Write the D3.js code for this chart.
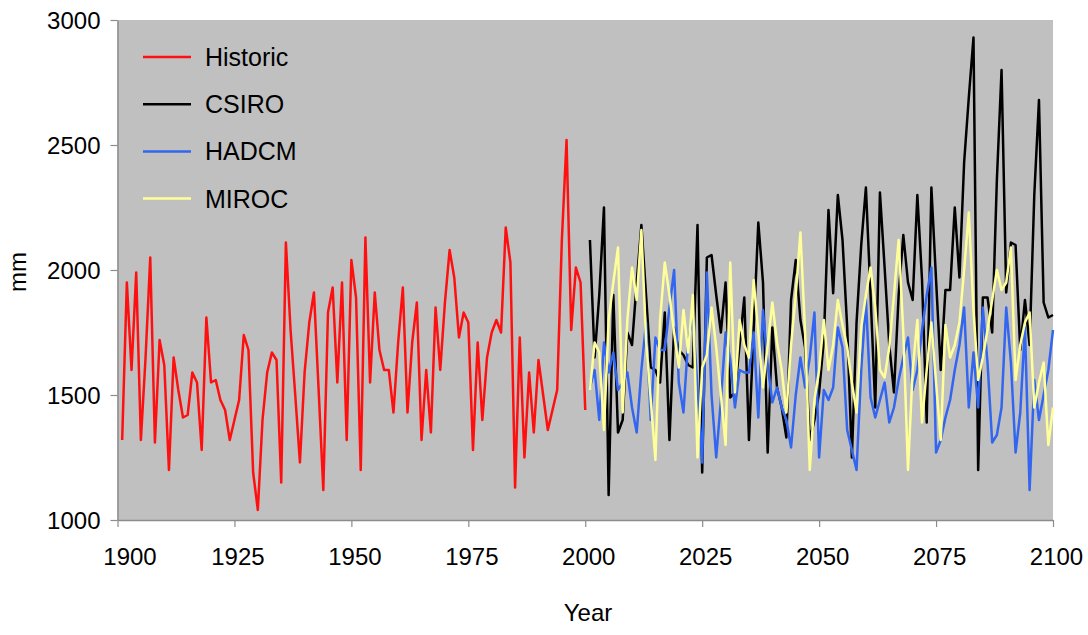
<!DOCTYPE html>
<html>
<head>
<meta charset="utf-8">
<script src="https://cdn.jsdelivr.net/npm/d3@7"></script>
<style>
	body { margin: 0; background: #fff; }
	text { font-family: "Liberation Sans", Arial, sans-serif; fill: #000; }
</style>
</head>
<body>
<div id="chart"></div>
<script>
// annual rainfall, mm
const histYears = d3.range(1901, 2001);
const historic = [
	1320, 1950, 1600, 1990, 1320, 1650, 2050, 1310, 1720, 1620,
	1200, 1650, 1520, 1410, 1420, 1590, 1550, 1280, 1810, 1550,
	1560, 1480, 1440, 1320, 1400, 1480, 1740, 1680, 1190, 1040,
	1400, 1590, 1670, 1640, 1150, 2110, 1760, 1500, 1230, 1590,
	1790, 1910, 1520, 1120, 1830, 1930, 1550, 1950, 1320, 2040,
	1890, 1200, 2130, 1550, 1910, 1680, 1600, 1600, 1430, 1710,
	1930, 1430, 1710, 1870, 1320, 1600, 1350, 1850, 1600, 1870,
	2080, 1970, 1730, 1830, 1790, 1280, 1710, 1400, 1650, 1750,
	1800, 1750, 2170, 2030, 1130, 1730, 1250, 1590, 1350, 1640,
	1500, 1360, 1440, 1520, 2120, 2520, 1760, 2010, 1950, 1440
];

const projYears = d3.range(2001, 2101);
const csiro = [
	2120, 1650, 1900, 2250, 1100, 1900, 1350, 1400, 1750, 1700,
	1950, 2180, 1900, 1610, 1600, 1550, 1830, 1320, 1770, 1680,
	1660, 1620, 1610, 2180, 1190, 2050, 2060, 1900, 1750, 1950,
	1490, 1510, 1700, 1890, 1320, 1760, 2190, 1950, 1270, 1770,
	1530, 1450, 1330, 1880, 2040, 1800, 1690, 1320, 1400, 1510,
	1720, 2240, 1907, 2300, 2120, 1770, 1250, 1790, 2100, 2330,
	1900, 1450, 2310, 2010, 1700, 1510, 1900, 2140, 1950, 1880,
	2300, 1960, 1390, 2330, 1960, 1600, 1920, 1920, 2250, 1970,
	2430, 2690, 2930, 1200, 1890, 1890, 1750, 2360, 2800, 1910,
	2110, 2100, 1680, 1880, 1700, 2300, 2680, 1870, 1810, 1820
];
const hadcm = [
	1530, 1600, 1400, 1710, 1590, 1670, 1520, 1550, 1590, 1450,
	1350, 1600, 1790, 1400, 1730, 1680, 1680, 1850, 2000, 1550,
	1430, 1720, 1810, 1530, 1230, 1990, 1500, 1250, 1480, 1750,
	1640, 1450, 1600, 1590, 1590, 1750, 1410, 1840, 1620, 1470,
	1530, 1450, 1400, 1290, 1500, 1650, 1530, 1650, 1830, 1250,
	1520, 1480, 1530, 1770, 1690, 1360, 1280, 1200, 1600, 1880,
	1490, 1410, 1480, 1550, 1390, 1450, 1560, 1650, 1730, 1520,
	1600, 1760, 1900, 2010, 1270, 1320, 1410, 1480, 1600, 1700,
	1850, 1450, 1670, 1450, 1850, 1630, 1310, 1340, 1450, 1850,
	1630, 1270, 1430, 1770, 1120, 1560, 1400, 1500, 1600, 1760
];
const miroc = [
	1520, 1710, 1670, 1360, 1800, 1950, 2090, 1430, 1800, 2010,
	1880, 2160, 1720, 1480, 1240, 1800, 2030, 1900, 1750, 1610,
	1840, 1670, 1900, 1250, 1610, 1660, 1850, 1690, 1500, 1300,
	2030, 1510, 1800, 1700, 1650, 1960, 1750, 1530, 1700, 1870,
	1710, 1600, 1430, 1700, 1900, 2150, 1750, 1200, 1480, 1600,
	1800, 1600, 1700, 1880, 1780, 1690, 1550, 1430, 1770, 1900,
	2010, 1850, 1600, 1570, 1690, 1900, 2120, 1750, 1200, 1600,
	1800, 1390, 1600, 1790, 1550, 1320, 1780, 1650, 1700, 1790,
	2000, 2230, 1840, 1560, 1650, 1760, 1880, 2000, 1920, 1950,
	2090, 1560, 1700, 1790, 1830, 1450, 1550, 1630, 1300, 1450
];

const xTicks = [1900, 1925, 1950, 1975, 2000, 2025, 2050, 2075, 2100];
const yTicks = [1000, 1500, 2000, 2500, 3000];

const seriesNames = ["Historic", "CSIRO", "HADCM", "MIROC"];
const seriesColors = ["#ff1010", "#000000", "#3366f0", "#ffff99"];

const width = 1088;
const height = 635;
const margin = { left: 117.5, right: 1053, top: 20, bottom: 520 };

const x = d3.scaleLinear().domain([1900, 2100]).range([margin.left, margin.right]);
const y = d3.scaleLinear().domain([1000, 3000]).range([margin.bottom, margin.top]);

const svg = d3.select("#chart")
	.append("svg")
	.attr("width", width)
	.attr("height", height);

svg.append("rect")
	.attr("x", margin.left)
	.attr("y", margin.top)
	.attr("width", margin.right - margin.left)
	.attr("height", margin.bottom - margin.top)
	.attr("fill", "#c0c0c0");

const xAxis = svg.append("g")
	.attr("transform", `translate(0,${margin.bottom})`)
	.call(d3.axisBottom(x).tickValues(xTicks).tickFormat(d3.format("d")).tickSize(7).tickSizeOuter(0));

const yAxis = svg.append("g")
	.attr("transform", `translate(${margin.left},0)`)
	.call(d3.axisLeft(y).tickValues(yTicks).tickFormat(d3.format("d")).tickSize(7).tickSizeOuter(0));

[xAxis, yAxis].forEach((g) => {
	g.select(".domain").attr("stroke", "#8c8c8c").attr("stroke-width", 1.5);
	g.selectAll(".tick line").attr("stroke", "#8c8c8c").attr("stroke-width", 1.2);
	g.selectAll(".tick text").attr("font-size", 24).attr("fill", "#000");
});
// first label sits a little inside in the original
xAxis.selectAll(".tick text")
	.attr("dy", "1.45em")
	.attr("dx", (d) => (d === 1900 ? 12 : 3));
yAxis.selectAll(".tick text").attr("x", -17).attr("dy", "0.36em");

svg.append("text")
	.attr("x", 588)
	.attr("y", 621)
	.attr("text-anchor", "middle")
	.attr("font-size", 24)
	.text("Year");

svg.append("text")
	.attr("transform", "translate(26,272) rotate(-90)")
	.attr("text-anchor", "middle")
	.attr("font-size", 24)
	.text("mm");

const line = d3.line()
	.x((d) => x(d[0]))
	.y((d) => y(d[1]));

const series = [
	d3.zip(histYears, historic),
	d3.zip(projYears, csiro),
	d3.zip(projYears, hadcm),
	d3.zip(projYears, miroc)
];

svg.append("g")
	.selectAll("path")
	.data(series)
	.enter()
	.append("path")
	.attr("d", line)
	.attr("fill", "none")
	.attr("stroke", (d, i) => seriesColors[i])
	.attr("stroke-width", 2.5)
	.attr("stroke-linejoin", "round");

const legend = svg.append("g")
	.selectAll("g")
	.data(seriesNames)
	.enter()
	.append("g")
	.attr("transform", (d, i) => `translate(143,${57 + i * 47.2})`);

legend.append("line")
	.attr("x1", 0)
	.attr("x2", 48)
	.attr("stroke", (d, i) => seriesColors[i])
	.attr("stroke-width", 2.5);

legend.append("text")
	.attr("x", 62)
	.attr("dy", "0.36em")
	.attr("font-size", 25)
	.text((d) => d);
</script>
</body>
</html>
